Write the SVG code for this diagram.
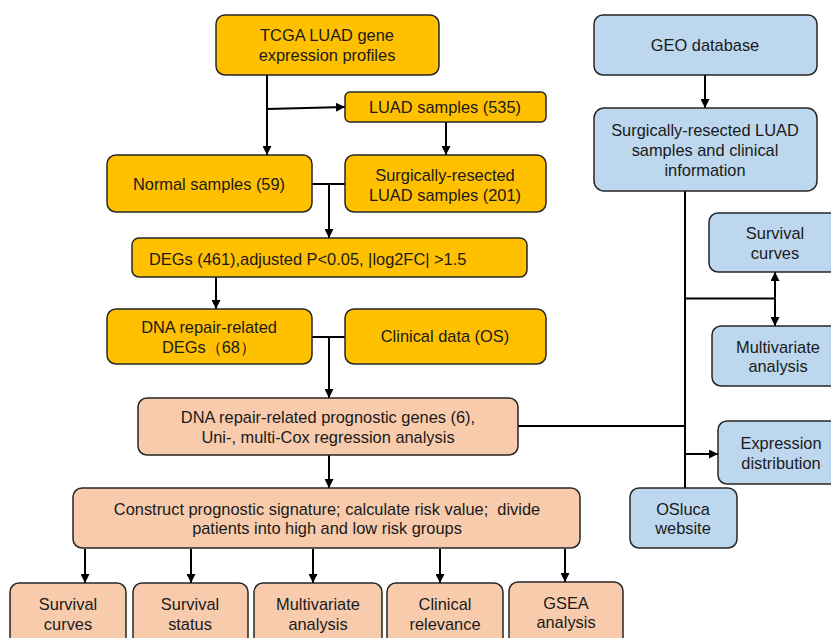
<svg xmlns="http://www.w3.org/2000/svg" width="831" height="638" viewBox="0 0 831 638">
<style>
text{font-family:"Liberation Sans",Arial,sans-serif;font-size:16.4px;fill:#1a1a1a;text-anchor:middle}
.o{fill:#FFC000;stroke:#262626;stroke-width:1.5}
.s{fill:#F8CBAD;stroke:#262626;stroke-width:1.5}
.b{fill:#BDD7EE;stroke:#262626;stroke-width:1.5}
.c{fill:none;stroke:#000;stroke-width:2}
.a{marker-end:url(#ah)}
</style>
<defs>
<marker id="ah" viewBox="0 0 10 10" refX="10" refY="5" markerWidth="4.5" markerHeight="4.5" orient="auto" markerUnits="strokeWidth">
<path d="M0,0L10,5L0,10z" fill="#000"/>
</marker>
</defs>
<rect width="831" height="638" fill="#fff"/>
<g id="connectors">
<path class="c a" d="M267,75V155"/>
<path class="c a" d="M267,109L345,107"/>
<path class="c a" d="M446,122V155"/>
<path class="c" d="M312,184H345"/>
<path class="c a" d="M329,184V238"/>
<path class="c a" d="M216,277V309"/>
<path class="c" d="M312,337H345"/>
<path class="c a" d="M329,337V398"/>
<path class="c a" d="M329,455V488"/>
<path class="c a" d="M85,549V583"/>
<path class="c a" d="M191,549V583"/>
<path class="c a" d="M313,549V583"/>
<path class="c a" d="M440,549V583"/>
<path class="c a" d="M565,549V582"/>
<path class="c a" d="M705,75V108"/>
<path class="c" d="M685,191V488"/>
<path class="c" d="M685,298.5H775"/>
<path class="c a" d="M775,298.5V272"/>
<path class="c a" d="M775,298.5V326"/>
<path class="c" d="M518,426H685"/>
<path class="c a" d="M685,454H718"/>
</g>
<g id="tcga"><rect class="o" x="216" y="15" width="223" height="60" rx="9"/><text x="327" y="41">TCGA LUAD gene</text><text x="327" y="61">expression profiles</text></g>
<g id="luad535"><rect class="o" x="345" y="92" width="201" height="30" rx="5"/><text x="445" y="113">LUAD samples (535)</text></g>
<g id="normal"><rect class="o" x="107" y="155" width="205" height="57" rx="9"/><text x="209" y="190">Normal samples (59)</text></g>
<g id="surg201"><rect class="o" x="345" y="155" width="201" height="57" rx="9"/><text x="445" y="181">Surgically-resected</text><text x="445" y="201">LUAD samples (201)</text></g>
<g id="degs"><rect class="o" x="132" y="238" width="395" height="39" rx="7"/><text x="149" y="265" style="text-anchor:start">DEGs (461),adjusted P&lt;0.05, |log2FC| &gt;1.5</text></g>
<g id="dnadegs"><rect class="o" x="107" y="309" width="205" height="55" rx="9"/><text x="209" y="333">DNA repair-related</text><text x="209" y="353">DEGs（68）</text></g>
<g id="clinical"><rect class="o" x="345" y="309" width="201" height="55" rx="9"/><text x="445" y="342">Clinical data (OS)</text></g>
<g id="prognostic"><rect class="s" x="138" y="398" width="380" height="57" rx="9"/><text x="328" y="423">DNA repair-related prognostic genes (6),</text><text x="328" y="443">Uni-, multi-Cox regression analysis</text></g>
<g id="construct"><rect class="s" x="73" y="488" width="507" height="60" rx="9"/><text x="327" y="515" xml:space="preserve">Construct prognostic signature; calculate risk value;  divide</text><text x="327" y="534">patients into high and low risk groups</text></g>
<g id="b1"><rect class="s" x="10" y="583" width="116" height="64" rx="9"/><text x="68" y="610">Survival</text><text x="68" y="630">curves</text></g>
<g id="b2"><rect class="s" x="133" y="583" width="115" height="64" rx="9"/><text x="190" y="610">Survival</text><text x="190" y="630">status</text></g>
<g id="b3"><rect class="s" x="254" y="583" width="128" height="64" rx="9"/><text x="318" y="610">Multivariate</text><text x="318" y="630">analysis</text></g>
<g id="b4"><rect class="s" x="387" y="583" width="116" height="64" rx="9"/><text x="445" y="610">Clinical</text><text x="445" y="630">relevance</text></g>
<g id="b5"><rect class="s" x="509" y="582" width="114" height="65" rx="9"/><text x="566" y="609">GSEA</text><text x="566" y="628">analysis</text></g>
<g id="geo"><rect class="b" x="594" y="15" width="223" height="60" rx="9"/><text x="705" y="51">GEO database</text></g>
<g id="geosurg"><rect class="b" x="594" y="108" width="223" height="83" rx="10"/><text x="705" y="136">Surgically-resected LUAD</text><text x="705" y="156">samples and clinical</text><text x="705" y="176">information</text></g>
<g id="geosurv"><rect class="b" x="709" y="213" width="134" height="59" rx="9"/><text x="775" y="239">Survival</text><text x="775" y="259">curves</text></g>
<g id="geomulti"><rect class="b" x="712" y="326" width="132" height="60" rx="9"/><text x="778" y="353">Multivariate</text><text x="778" y="372">analysis</text></g>
<g id="expr"><rect class="b" x="718" y="421" width="126" height="63" rx="9"/><text x="781" y="449">Expression</text><text x="781" y="469">distribution</text></g>
<g id="osluca"><rect class="b" x="630" y="488" width="107" height="60" rx="9"/><text x="683" y="515">OSluca</text><text x="683" y="534">website</text></g>
</svg>
